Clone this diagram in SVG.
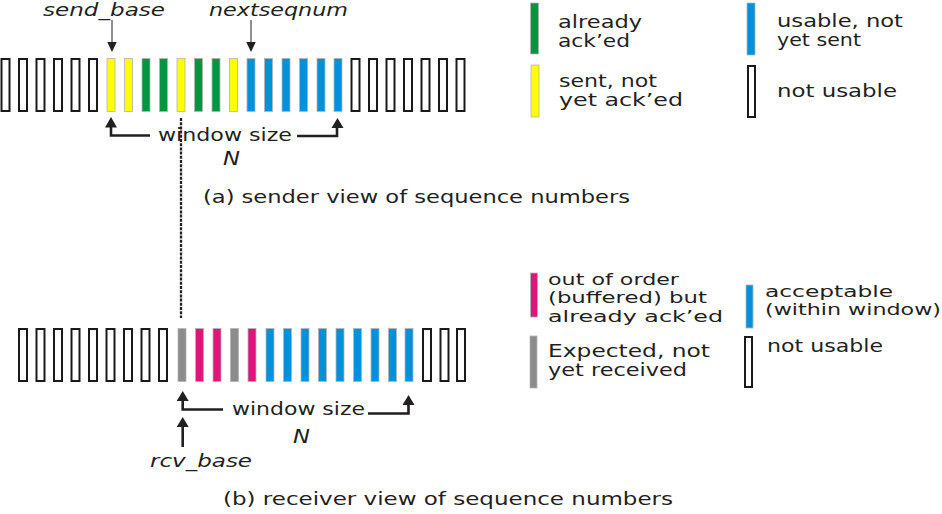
<svg xmlns="http://www.w3.org/2000/svg" xmlns:xlink="http://www.w3.org/1999/xlink" width="942" height="514" viewBox="0 0 942 514">
<style>
text{font-family:"DejaVu Sans","Liberation Sans",sans-serif;fill:#231f20;font-size:18px}
.it{font-style:italic}
.lg{font-size:18px}
.sm{font-size:16.5px}
.big{font-size:20px}
.nu{fill:#fff;stroke:#1a1a1a;stroke-width:2}
.c{stroke:#b4b4b4;stroke-width:0.8}
.y{fill:#ffff00}.g{fill:#00963f}.b{fill:#0091dc}.m{fill:#e0157b}.gr{fill:#8c8c8c}
.thin{stroke:#231f20;stroke-width:1;fill:none}
.thick{stroke:#231f20;stroke-width:2.6;fill:none}
.head{fill:#231f20}
.dash{stroke:#222;stroke-width:2.3;stroke-dasharray:3 1.2;fill:none}
</style>
<defs>
<rect id="nuT" y="59" width="8" height="52" class="nu"/>
<rect id="cT" y="58.5" width="8" height="53" class="c"/>
<rect id="nuB" y="329" width="8" height="52" class="nu"/>
<rect id="cB" y="328.5" width="8" height="53" class="c"/>
</defs>

<g id="sender-row">
<use xlink:href="#nuT" x="1.5"/><use xlink:href="#nuT" x="19"/><use xlink:href="#nuT" x="36.5"/><use xlink:href="#nuT" x="54"/><use xlink:href="#nuT" x="71.5"/><use xlink:href="#nuT" x="89"/>
<use xlink:href="#cT" x="107" class="y"/><use xlink:href="#cT" x="124.5" class="y"/><use xlink:href="#cT" x="142" class="g"/><use xlink:href="#cT" x="159.5" class="g"/><use xlink:href="#cT" x="177" class="y"/><use xlink:href="#cT" x="194.5" class="g"/><use xlink:href="#cT" x="212" class="g"/><use xlink:href="#cT" x="229.5" class="y"/>
<use xlink:href="#cT" x="247" class="b"/><use xlink:href="#cT" x="264.5" class="b"/><use xlink:href="#cT" x="282" class="b"/><use xlink:href="#cT" x="299.5" class="b"/><use xlink:href="#cT" x="317" class="b"/><use xlink:href="#cT" x="334" class="b"/>
<use xlink:href="#nuT" x="351.5"/><use xlink:href="#nuT" x="369"/><use xlink:href="#nuT" x="386.5"/><use xlink:href="#nuT" x="404"/><use xlink:href="#nuT" x="421.5"/><use xlink:href="#nuT" x="439"/><use xlink:href="#nuT" x="456.5"/>
</g>

<g id="receiver-row">
<use xlink:href="#nuB" x="19"/><use xlink:href="#nuB" x="36.5"/><use xlink:href="#nuB" x="54"/><use xlink:href="#nuB" x="71.5"/><use xlink:href="#nuB" x="89"/><use xlink:href="#nuB" x="106.5"/><use xlink:href="#nuB" x="124"/><use xlink:href="#nuB" x="141.5"/><use xlink:href="#nuB" x="159"/>
<use xlink:href="#cB" x="178" class="gr"/><use xlink:href="#cB" x="195.5" class="m"/><use xlink:href="#cB" x="213" class="m"/><use xlink:href="#cB" x="230.5" class="gr"/><use xlink:href="#cB" x="248" class="m"/>
<use xlink:href="#cB" x="266" class="b"/><use xlink:href="#cB" x="283.5" class="b"/><use xlink:href="#cB" x="301" class="b"/><use xlink:href="#cB" x="318.5" class="b"/><use xlink:href="#cB" x="336" class="b"/><use xlink:href="#cB" x="353.5" class="b"/><use xlink:href="#cB" x="371" class="b"/><use xlink:href="#cB" x="388.5" class="b"/><use xlink:href="#cB" x="405" class="b"/>
<use xlink:href="#nuB" x="423"/><use xlink:href="#nuB" x="440.5"/><use xlink:href="#nuB" x="457"/>
</g>

<g id="sender-legend">
<rect x="530.5" y="3" width="8" height="51" class="c g"/>
<text class="lg" x="558" y="28" textLength="84" lengthAdjust="spacingAndGlyphs">already</text>
<text class="lg" x="558" y="47" textLength="72" lengthAdjust="spacingAndGlyphs">ack’ed</text>
<rect x="531" y="65" width="8" height="52" class="c y"/>
<text class="lg" x="559" y="87" textLength="98" lengthAdjust="spacingAndGlyphs">sent, not</text>
<text class="lg" x="559" y="106" textLength="124" lengthAdjust="spacingAndGlyphs">yet ack’ed</text>
<rect x="747" y="3" width="8" height="52" class="c b"/>
<text class="lg" x="777" y="27" textLength="126" lengthAdjust="spacingAndGlyphs">usable, not</text>
<text class="lg" x="777" y="46" textLength="84" lengthAdjust="spacingAndGlyphs">yet sent</text>
<rect x="748" y="66" width="7" height="51" class="nu"/>
<text class="lg" x="777" y="97" textLength="120" lengthAdjust="spacingAndGlyphs">not usable</text>
</g>

<g id="receiver-legend">
<rect x="530.5" y="273" width="7" height="44" class="c m"/>
<text class="sm" x="548" y="285" textLength="131" lengthAdjust="spacingAndGlyphs">out of order</text>
<text class="sm" x="548" y="303" textLength="159" lengthAdjust="spacingAndGlyphs">(buffered) but</text>
<text class="sm" x="548" y="322" textLength="175" lengthAdjust="spacingAndGlyphs">already ack’ed</text>
<rect x="530" y="336" width="7" height="52" class="c gr"/>
<text class="lg" x="548" y="357" textLength="162" lengthAdjust="spacingAndGlyphs">Expected,  not</text>
<text class="lg" x="548" y="376" textLength="139" lengthAdjust="spacingAndGlyphs">yet received</text>
<rect x="746" y="285" width="7" height="43" class="c b"/>
<text class="sm" x="765" y="297" textLength="128" lengthAdjust="spacingAndGlyphs">acceptable</text>
<text class="sm" x="765" y="315" textLength="176" lengthAdjust="spacingAndGlyphs">(within window)</text>
<rect x="745" y="337" width="7" height="50" class="nu"/>
<text class="lg" x="767" y="352" textLength="116" lengthAdjust="spacingAndGlyphs">not usable</text>
</g>

<g id="labels">
<text class="it" x="43" y="16" textLength="122" lengthAdjust="spacingAndGlyphs">send_base</text>
<text class="it" x="209" y="16" textLength="139" lengthAdjust="spacingAndGlyphs">nextseqnum</text>
<text x="158" y="141" textLength="134" lengthAdjust="spacingAndGlyphs">window size</text>
<text class="it big" x="223" y="165" textLength="17" lengthAdjust="spacingAndGlyphs">N</text>
<text x="203" y="203" textLength="427" lengthAdjust="spacingAndGlyphs">(a) sender view of sequence numbers</text>
<text x="232" y="415" textLength="133" lengthAdjust="spacingAndGlyphs">window size</text>
<text class="it big" x="293" y="443" textLength="17" lengthAdjust="spacingAndGlyphs">N</text>
<text class="it" x="150" y="467" textLength="102" lengthAdjust="spacingAndGlyphs">rcv_base</text>
<text x="223" y="505" textLength="450" lengthAdjust="spacingAndGlyphs">(b) receiver view of sequence numbers</text>
</g>

<g id="connectors">
<line x1="112" y1="20" x2="112" y2="44" class="thin"/>
<polygon points="107.3,42 116.7,42 112,52" class="head"/>
<line x1="251" y1="20" x2="251" y2="44" class="thin"/>
<polygon points="246.3,42 255.7,42 251,52" class="head"/>
<polyline points="150,135.5 111,135.5 111,125" class="thick"/>
<polygon points="105,127.5 117,127.5 111,117" class="head"/>
<polyline points="297,136 337,136 337,126" class="thick"/>
<polygon points="331.5,128 343.5,128 337.5,118" class="head"/>
<polyline points="223,409.5 182.7,409.5 182.7,399" class="thick"/>
<polygon points="176.7,401 188.7,401 182.7,391" class="head"/>
<polyline points="368,413.5 408.5,413.5 408.5,403" class="thick"/>
<polygon points="402.5,405 414.5,405 408.5,395" class="head"/>
<line x1="182.7" y1="447" x2="182.7" y2="424" class="thick"/>
<polygon points="176.7,427 188.7,427 182.7,417" class="head"/>
<line x1="181" y1="118" x2="181" y2="318" class="dash"/>
</g>
</svg>
